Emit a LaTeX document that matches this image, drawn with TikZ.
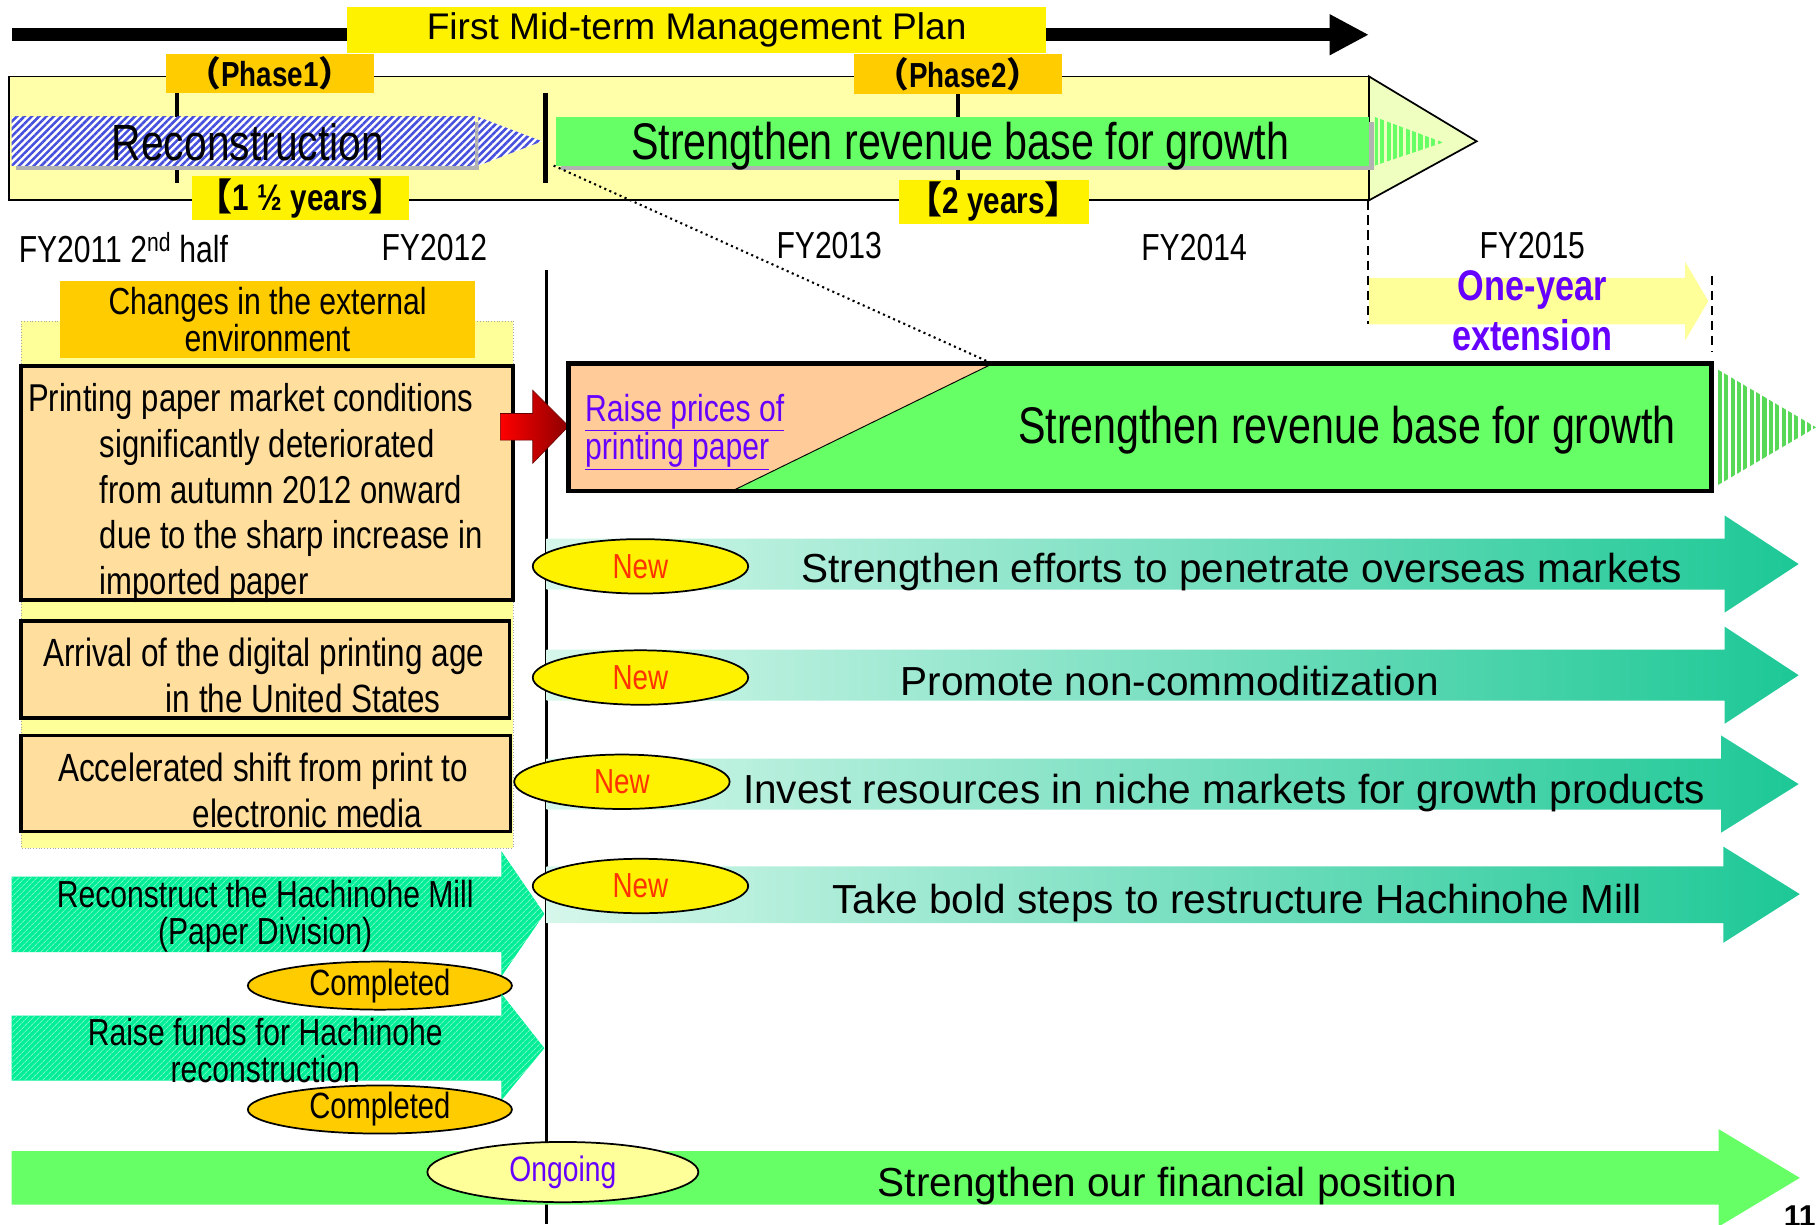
\documentclass[tikz,border=0pt]{standalone}
\usepackage{fontspec}
\setmainfont{Liberation Sans}
\newfontfamily\goth[FakeStretch=0.8]{Liberation Sans}
\newfontfamily\cjk{Noto Sans CJK JP}
\usetikzlibrary{arrows.meta, patterns.meta, shapes.geometric}

\definecolor{bandyellow}{RGB}{255,255,170}
\definecolor{tipyellow}{RGB}{238,255,192}
\definecolor{paleyellow}{RGB}{255,255,153}
\definecolor{labelorange}{RGB}{255,204,0}
\definecolor{leafgreen}{RGB}{102,255,102}
\definecolor{boxorange}{RGB}{255,222,158}
\definecolor{priceorange}{RGB}{255,204,153}
\definecolor{mintlight}{RGB}{214,247,235}
\definecolor{mintdark}{RGB}{29,200,150}
\definecolor{hatchgreen}{RGB}{0,238,150}
\definecolor{hatchblue}{RGB}{70,80,220}
\definecolor{planpurple}{RGB}{102,0,255}
\definecolor{newred}{RGB}{255,51,0}

% condensed gothic-like face: size, leading
\newcommand{\gfont}[2]{\goth\fontsize{#1}{#2}\selectfont}

\begin{document}
\begin{tikzpicture}[x=1pt, y=-1pt,
    newtag/.style={ellipse, draw, line width=1.5pt, fill=yellow, minimum width=186pt,
      minimum height=47pt, inner sep=0pt, text=newred, font=\gfont{30}{30}},
    donetag/.style={ellipse, draw, line width=1.5pt, fill=labelorange, minimum width=228pt,
      minimum height=40pt, inner sep=0pt, font=\gfont{31.5}{31.5}},
    rowtext/.style={inner sep=0pt, font=\fontsize{35}{35}\selectfont},
    rowarrow/.style={left color=mintlight, right color=mintdark},
    yearlabel/.style={inner sep=0pt, font=\gfont{32.5}{32.5}},
    envbox/.style={draw, line width=3pt, fill=boxorange},
    envtext/.style={anchor=north west, align=left, inner sep=0pt, font=\gfont{34}{39.5}},
    reconhatch/.style={fill=white, postaction={pattern={Lines[angle=45,distance=4.5pt,line width=2.2pt]}, pattern color=hatchblue}},
    greenhatch/.style={fill=hatchgreen, postaction={pattern={Lines[angle=45,distance=4pt,line width=1pt]}, pattern color=hatchgreen!55!white}},
    stripes/.style={pattern={Lines[angle=90,distance=5.5pt,line width=3.5pt]}, pattern color=#1}]
  \useasboundingbox (0,0) rectangle (1568,1057);

  % plan span arrow and its title
  \coordinate (planstart) at (10,30);
  \coordinate (planend) at (1182,30);
  \draw[line width=11pt, -{Triangle[length=34pt, width=33pt]}] (planstart) -- (planend);
  \node[fill=yellow, minimum width=603pt, minimum height=40pt, inner sep=0pt,
    font=\fontsize{32}{32}\selectfont] (plan) at (601.5,26) {First Mid-term Management Plan};

  % phase band with its arrow tip
  \draw[line width=1.5pt, fill=bandyellow] (8,66) rectangle (1182,173);
  \draw[line width=1.5pt, fill=tipyellow] (1182,66) -- (1275,122) -- (1182,173) -- cycle;
  % phase ticks
  \draw[line width=3pt] (153,80) -- (153,158);
  \draw[line width=3.5pt] (471,80) -- (471,158);
  \draw[line width=3pt] (827,81) -- (827,158);

  % reconstruction bar
  \fill[black!30] (14,105) rectangle (414,147);
  \fill[reconhatch] (10,101) rectangle (410,143);
  \fill[reconhatch] (413,101) -- (468,122) -- (413,143) -- cycle;
  \node[font=\gfont{44}{44}] (recon) at (214,123) {Reconstruction};

  % revenue base bar
  \fill[black!30] (484,105) rectangle (1186,147);
  \fill[leafgreen] (480,101) rectangle (1182,143);
  \fill[stripes=leafgreen] (1187,101) -- (1246,123) -- (1187,143) -- cycle;
  \node[font=\gfont{44.5}{44.5}] (growth) at (829,126) {Strengthen revenue base for growth};

  % phase labels and durations
  \node[fill=labelorange, minimum width=180pt, minimum height=33pt, inner sep=0pt,
    font=\gfont{30}{30}\bfseries] (phase1) at (233,63.5) {{\cjk （}Phase1{\cjk ）}};
  \node[fill=labelorange, minimum width=180pt, minimum height=34pt, inner sep=0pt,
    font=\gfont{30}{30}\bfseries] (phase2) at (827,64) {{\cjk （}Phase2{\cjk ）}};
  \node[fill=yellow, minimum width=187pt, minimum height=38pt, inner sep=0pt,
    font=\gfont{32}{32}\bfseries] (dur1) at (259.5,171) {{\cjk 【}1 ½ years{\cjk 】}};
  \node[fill=yellow, minimum width=164pt, minimum height=38pt, inner sep=0pt,
    font=\gfont{32}{32}\bfseries] (dur2) at (858,174) {{\cjk 【}2 years{\cjk 】}};

  % fiscal years
  \node[yearlabel, anchor=west] (fy11) at (16,214) {FY2011 2\textsuperscript{nd} half};
  \node[yearlabel] (fy12) at (375,214) {FY2012};
  \node[yearlabel] (fy13) at (716,212) {FY2013};
  \node[yearlabel] (fy14) at (1031,214) {FY2014};
  \node[yearlabel] (fy15) at (1323,212) {FY2015};

  % zoom line down to the price box
  \coordinate (split) at (478,143);
  \coordinate (pricecorner) at (857,314);
  \draw[line width=1.8pt, dash pattern=on 1.8pt off 3pt] (split) -- (pricecorner);

  % one-year extension
  \fill[paleyellow] (1182,240) -- (1455,240) -- (1455,226) -- (1475,260) -- (1455,294)
    -- (1455,280) -- (1182,280) -- cycle;
  \draw[line width=2pt, dash pattern=on 8pt off 5pt] (1181,173) -- (1181,280);
  \draw[line width=2pt, dash pattern=on 8pt off 5pt] (1478,238) -- (1478,304);
  \node[align=center, text=planpurple, font=\gfont{37}{43}\bfseries] (ext) at (1323,268) {One-year\\extension};

  % main divider
  \draw[line width=3pt] (472,233) -- (472,1057);

  % external environment panel
  \draw[black!35, dotted, fill=paleyellow] (18,277) rectangle (443,732);
  \node[fill=labelorange, minimum width=358pt, minimum height=66pt, inner sep=0pt, align=center,
    font=\gfont{32.5}{32}] (envhead) at (231,276) {Changes in the external\\environment};
  \draw[envbox] (18,316) rectangle (443,518);
  \node[envtext, font=\gfont{33.5}{39.5}] (env1) at (24,331) {Printing paper market conditions\\
    \hspace*{62pt}significantly deteriorated\\
    \hspace*{62pt}from autumn 2012 onward\\
    \hspace*{62pt}due to the sharp increase in\\
    \hspace*{62pt}imported paper};
  \draw[envbox] (18,536) rectangle (440,620);
  \node[envtext] (env2) at (37,551) {Arrival of the digital printing age\\
    \hspace*{106pt}in the United States};
  \draw[envbox] (18,635) rectangle (441,718);
  \node[envtext] (env3) at (50,650) {Accelerated shift from print to\\
    \hspace*{116pt}electronic media};

  % red arrow into the price box
  \shade[left color=red, right color=red!55!black, draw=red!40!black, line width=0.5pt]
    (432,357) -- (460,357) -- (460,337) -- (491,368) -- (460,400) -- (460,380) -- (432,380) -- cycle;

  % price box
  \fill[leafgreen] (491,314) rectangle (1478,424);
  \fill[priceorange] (491,314) -- (pricecorner) -- (632,424) -- (491,424) -- cycle;
  \draw[line width=0.8pt] (pricecorner) -- (632,424);
  \draw[line width=4pt] (491,314) rectangle (1478,424);
  \node[anchor=north west, align=left, inner sep=0pt, text=planpurple,
    font=\gfont{32.5}{33}] (prices) at (505,340) {\underline{Raise prices of}\\\underline{printing paper}};
  \node[font=\gfont{44.5}{44.5}] (base) at (1163,371) {Strengthen revenue base for growth};
  \fill[stripes=leafgreen!85!black] (1483,319) -- (1568,369) -- (1483,419) -- cycle;

  % new measures
  \shade[rowarrow] (472,465) -- (1489,465) -- (1489,445) -- (1553,487) -- (1489,529)
    -- (1489,509) -- (472,509) -- cycle;
  \node[rowtext] (row1) at (1072,494) {Strengthen efforts to penetrate overseas markets};
  \node[newtag] (new1) at (553,489) {New};

  \shade[rowarrow] (472,561) -- (1489,561) -- (1489,541) -- (1553,583) -- (1489,625)
    -- (1489,605) -- (472,605) -- cycle;
  \node[rowtext] (row2) at (1010,588) {Promote non-commoditization};
  \node[newtag] (new2) at (553,585) {New};

  \shade[rowarrow] (472,655) -- (1486,655) -- (1486,635) -- (1553,677) -- (1486,719)
    -- (1486,699) -- (472,699) -- cycle;
  \node[rowtext] (row3) at (1057,685) {Invest resources in niche markets for growth products};
  \node[newtag] (new3) at (537,675) {New};

  \shade[rowarrow] (472,748) -- (1488,748) -- (1488,731) -- (1554,772) -- (1488,814)
    -- (1488,797) -- (472,797) -- cycle;
  \node[rowtext] (row4) at (1068,780) {Take bold steps to restructure Hachinohe Mill};
  \node[newtag] (new4) at (553,765) {New};

  % completed measures
  \fill[greenhatch] (10,757) -- (433,757) -- (433,735) -- (470,789) -- (433,843) -- (433,822)
    -- (10,822) -- cycle;
  \node[align=center, font=\gfont{32.5}{32}] (mill) at (229,791) {Reconstruct the Hachinohe Mill\\(Paper Division)};
  \node[donetag] (done1) at (328,851) {Completed};

  \fill[greenhatch] (10,877) -- (433,877) -- (433,858) -- (470,905) -- (433,950) -- (433,933)
    -- (10,933) -- cycle;
  \node[align=center, font=\gfont{32.5}{32}] (funds) at (229,907) {Raise funds for Hachinohe\\reconstruction};
  \node[donetag] (done2) at (328,958) {Completed};

  % financial position
  \fill[leafgreen] (10,994) -- (1484,994) -- (1484,975) -- (1554,1017) -- (1484,1059)
    -- (1484,1040) -- (10,1040) -- cycle;
  \node[font=\fontsize{35}{35}\selectfont] (finance) at (1008,1024) {Strengthen our financial position};
  \node[ellipse, draw, line width=1.5pt, fill=paleyellow, minimum width=234pt, minimum height=52pt,
    inner sep=0pt, text=planpurple, font=\gfont{30.5}{30.5}] (ongoing) at (486,1012) {Ongoing};

  % page number
  \node[anchor=north west, inner sep=0pt, font=\bfseries\fontsize{26}{26}\selectfont] (pageno) at (1540,1041) {11};
\end{tikzpicture}
\end{document}
